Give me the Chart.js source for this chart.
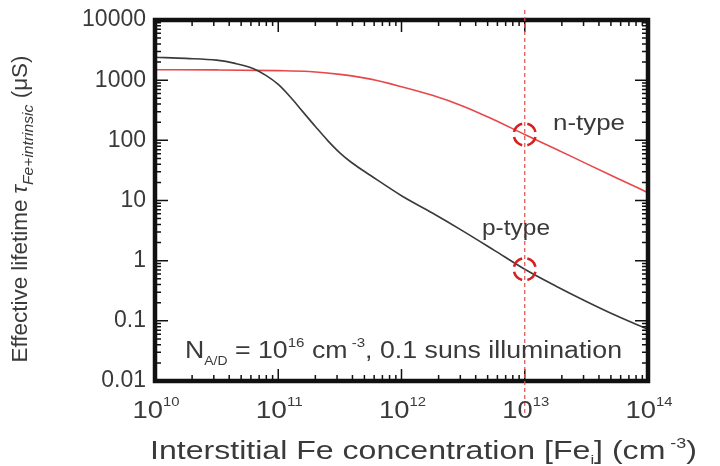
<!DOCTYPE html>
<html>
<head>
<meta charset="utf-8">
<script src="https://cdn.jsdelivr.net/npm/chart.js@4/dist/chart.umd.min.js"></script>
<style>
  html, body { margin: 0; padding: 0; background: #ffffff; }
  #wrap { width: 720px; height: 466px; }
</style>
</head>
<body>
<div id="wrap"><canvas id="c" width="720" height="466"></canvas></div>
<script>
// ---------- data ----------
const pTypeConc = [1e10, 1.78e10, 3.16e10, 4.47e10, 6.31e10, 7.94e10, 1e11, 1.26e11, 1.58e11, 2e11, 2.51e11, 3.16e11, 3.98e11, 5.62e11, 1e12, 1.78e12, 3.16e12, 5.62e12, 1e13, 1.78e13, 3.16e13, 5.62e13, 1e14];
const pTypeLifetime = [2400, 2300, 2150, 1900, 1550, 1200, 850, 520, 300, 170, 100, 62, 42, 26, 12, 6.2, 3.1, 1.5, 0.72, 0.38, 0.21, 0.12, 0.072];

const nTypeConc = [1e10, 3.16e10, 1e11, 1.78e11, 3.16e11, 5.62e11, 1e12, 1.78e12, 3.16e12, 5.62e12, 1e13, 1.78e13, 3.16e13, 5.62e13, 1e14];
const nTypeLifetime = [1490, 1480, 1440, 1390, 1250, 1040, 780, 560, 370, 220, 125, 72, 41, 23.5, 13.5];

const markerConc = 1e13;                 // vertical dashed line
const markerLifetimes = [125, 0.72];     // dashed circles (n-type, p-type)

const xTickValues = [1e10, 1e11, 1e12, 1e13, 1e14];
const xTickExponents = ['10', '11', '12', '13', '14'];
const yTickValues = [0.01, 0.1, 1, 10, 100, 1000, 10000];
const yTickLabels = ['0.01', '0.1', '1', '10', '100', '1000', '10000'];

const seriesLabels = ['p-type', 'n-type'];
// ---------------------------------------------------

const FONT = "'Liberation Sans', Arial, sans-serif";
const TXT = '#3a3a3a';

function setFont(ctx, p) {
  ctx.font = (p.italic ? 'italic ' : '') + p.size + 'px ' + FONT;
}
function richWidth(ctx, parts) {
  let w = 0;
  for (const p of parts) { setFont(ctx, p); w += ctx.measureText(p.t).width + (p.gap || 0); }
  return w;
}
// draws mixed-size text; width = optional target width (horizontal stretch)
function drawRich(ctx, parts, x, y, align, width) {
  const nat = richWidth(ctx, parts);
  const sx = width ? width / nat : 1;
  const w = nat * sx;
  const left = align === 'center' ? x - w / 2 : (align === 'right' ? x - w : x);
  ctx.save();
  ctx.translate(left, y);
  ctx.scale(sx, 1);
  ctx.textAlign = 'left';
  ctx.textBaseline = 'alphabetic';
  let cx = 0;
  for (const p of parts) {
    setFont(ctx, p);
    ctx.fillText(p.t, cx, p.dy || 0);
    cx += ctx.measureText(p.t).width + (p.gap || 0);
  }
  ctx.restore();
}

const decorations = {
  id: 'decorations',
  afterDatasetsDraw(chart) {
    const ctx = chart.ctx;
    const a = chart.chartArea;
    const xs = chart.scales.x, ys = chart.scales.y;
    ctx.save();

    // ticks, inward on all four sides
    ctx.strokeStyle = '#111';
    ctx.lineWidth = 1.5;
    ctx.beginPath();
    for (let i = 0; i < yTickValues.length; i++) {
      const v = yTickValues[i];
      const py = ys.getPixelForValue(v);
      ctx.moveTo(a.left, py); ctx.lineTo(a.left + 13, py);
      ctx.moveTo(a.right, py); ctx.lineTo(a.right - 13, py);
      if (i < yTickValues.length - 1) {
        for (let m = 2; m <= 9; m++) {
          const pm = ys.getPixelForValue(v * m);
          ctx.moveTo(a.left, pm); ctx.lineTo(a.left + 6, pm);
          ctx.moveTo(a.right, pm); ctx.lineTo(a.right - 6, pm);
        }
      }
    }
    for (let i = 0; i < xTickValues.length; i++) {
      const v = xTickValues[i];
      const px = xs.getPixelForValue(v);
      ctx.moveTo(px, a.bottom); ctx.lineTo(px, a.bottom - 12);
      ctx.moveTo(px, a.top); ctx.lineTo(px, a.top + 12);
      if (i < xTickValues.length - 1) {
        for (let m = 2; m <= 9; m++) {
          const pm = xs.getPixelForValue(v * m);
          ctx.moveTo(pm, a.bottom); ctx.lineTo(pm, a.bottom - 6);
          ctx.moveTo(pm, a.top); ctx.lineTo(pm, a.top + 6);
        }
      }
    }
    ctx.stroke();

    // frame
    ctx.lineWidth = 4.5;
    ctx.strokeStyle = '#111';
    ctx.strokeRect(a.left, a.top, a.right - a.left, a.bottom - a.top);

    // vertical dashed marker line
    const mx = xs.getPixelForValue(markerConc);
    ctx.strokeStyle = '#e05050';
    ctx.lineWidth = 1.2;
    ctx.setLineDash([4, 3]);
    ctx.beginPath();
    ctx.moveTo(mx, 10); ctx.lineTo(mx, 414);
    ctx.stroke();
    ctx.setLineDash([]);

    // dashed circles drawn as four arc segments each
    ctx.strokeStyle = '#d42020';
    ctx.lineWidth = 2.6;
    ctx.lineCap = 'butt';
    for (let k = 0; k < markerLifetimes.length; k++) {
      const cy = ys.getPixelForValue(markerLifetimes[k]);
      for (let s = 0; s < 4; s++) {
        const mid = Math.PI / 4 + s * Math.PI / 2;
        ctx.beginPath();
        ctx.arc(mx, cy, 11, mid - 0.55, mid + 0.55);
        ctx.stroke();
      }
    }

    ctx.fillStyle = TXT;
    // y tick labels
    ctx.font = '23px ' + FONT;
    ctx.textAlign = 'right';
    ctx.textBaseline = 'middle';
    for (let i = 0; i < yTickValues.length; i++) {
      ctx.fillText(yTickLabels[i], a.left - 9, ys.getPixelForValue(yTickValues[i]));
    }
    // x tick labels 10^n
    for (let i = 0; i < xTickValues.length; i++) {
      const px = xs.getPixelForValue(xTickValues[i]);
      drawRich(ctx, [
        { t: '10', size: 24 },
        { t: xTickExponents[i], size: 13, dy: -12 }
      ], px + 1, 418, 'center', 47);
    }

    // x axis title
    drawRich(ctx, [
      { t: 'Interstitial Fe concentration [Fe', size: 25 },
      { t: 'i', size: 13, dy: 5 },
      { t: '] (cm', size: 25 },
      { t: ' -3', size: 14, dy: -11 },
      { t: ')', size: 25 }
    ], 150, 459, 'left', 547);

    // y axis title (rotated)
    ctx.save();
    ctx.translate(27, 209);
    ctx.rotate(-Math.PI / 2);
    drawRich(ctx, [
      { t: 'Effective lifetime ', size: 21.5 },
      { t: '\u03C4', size: 21.5, italic: true },
      { t: 'Fe+intrinsic', size: 15, italic: true, dy: 6, gap: 6 },
      { t: '(\u03BCS)', size: 21.5 }
    ], 0, 0, 'center', 307);
    ctx.restore();

    // annotations
    drawRich(ctx, [
      { t: 'N', size: 23 },
      { t: 'A/D', size: 12, dy: 7 },
      { t: ' = 10', size: 23 },
      { t: '16', size: 13, dy: -11 },
      { t: ' cm', size: 23 },
      { t: ' -3', size: 13, dy: -11 },
      { t: ', 0.1 suns illumination', size: 23 }
    ], 185, 358, 'left', 437);

    drawRich(ctx, [{ t: seriesLabels[1], size: 22 }], 553, 130, 'left', 72);
    drawRich(ctx, [{ t: seriesLabels[0], size: 22 }], 482, 235, 'left', 68);

    ctx.restore();
  }
};

new Chart(document.getElementById('c'), {
  type: 'line',
  data: {
    datasets: [
      {
        label: seriesLabels[0],
        data: pTypeConc.map((c, i) => ({ x: c, y: pTypeLifetime[i] })),
        borderColor: '#3a3a3a',
        borderWidth: 1.6,
        pointRadius: 0,
        cubicInterpolationMode: 'monotone',
        fill: false
      },
      {
        label: seriesLabels[1],
        data: nTypeConc.map((c, i) => ({ x: c, y: nTypeLifetime[i] })),
        borderColor: '#e8474a',
        borderWidth: 1.6,
        pointRadius: 0,
        cubicInterpolationMode: 'monotone',
        fill: false
      }
    ]
  },
  options: {
    responsive: false,
    animation: false,
    devicePixelRatio: 1,
    layout: { padding: { left: 155, right: 72, top: 20, bottom: 85 } },
    plugins: { legend: { display: false }, tooltip: { enabled: false } },
    scales: {
      x: { type: 'logarithmic', min: 1e10, max: 1e14, display: false },
      y: { type: 'logarithmic', min: 0.01, max: 10000, display: false }
    }
  },
  plugins: [decorations]
});
</script>
</body>
</html>
